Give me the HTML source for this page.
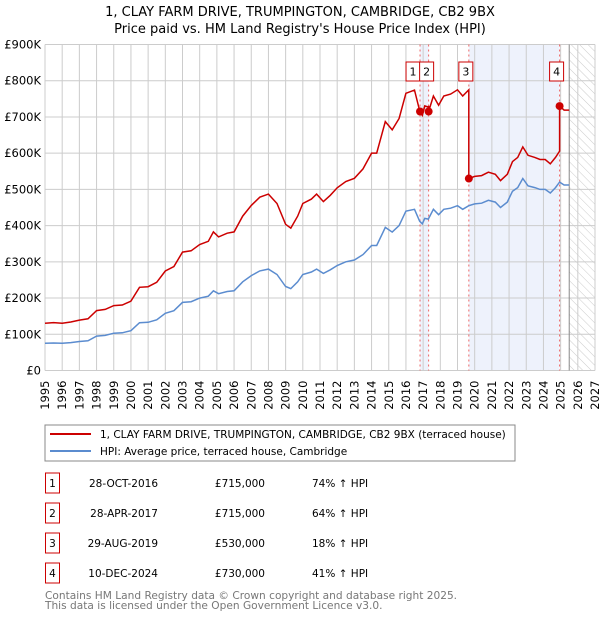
<!DOCTYPE html>
<html><head><meta charset="utf-8"><style>
body{margin:0;background:#fff;font-family:"DejaVu Sans","Liberation Sans",sans-serif;}
svg text{font-family:"DejaVu Sans","Liberation Sans",sans-serif;}
</style></head><body>
<svg id="c" width="600" height="620" xmlns="http://www.w3.org/2000/svg">
<defs><pattern id="hatch" width="6" height="6" patternUnits="userSpaceOnUse" patternTransform="rotate(-45)"><line x1="0" y1="0" x2="0" y2="6" stroke="#ccc" stroke-width="1"/></pattern></defs>
<text x="300" y="16" text-anchor="middle" font-size="13" fill="#000">1, CLAY FARM DRIVE, TRUMPINGTON, CAMBRIDGE, CB2 9BX</text>
<text x="300" y="33" text-anchor="middle" font-size="13" fill="#000">Price paid vs. HM Land Registry's House Price Index (HPI)</text>
<g id="plot"></g>
<rect x="45" y="425" width="470" height="36" fill="#fff" stroke="#888"/>
<line x1="50" y1="434" x2="91" y2="434" stroke="#cc0000" stroke-width="2"/>
<text x="100" y="438" font-size="10.5">1, CLAY FARM DRIVE, TRUMPINGTON, CAMBRIDGE, CB2 9BX (terraced house)</text>
<line x1="50" y1="451" x2="91" y2="451" stroke="#5b8ccf" stroke-width="2"/>
<text x="100" y="455" font-size="10.5">HPI: Average price, terraced house, Cambridge</text>
<g id="table" font-size="10.5"></g>
<text x="45" y="599" font-size="10.6" fill="#777">Contains HM Land Registry data © Crown copyright and database right 2025.</text>
<text x="45" y="609" font-size="10.6" fill="#777">This data is licensed under the Open Government Licence v3.0.</text>
</svg>
<script>
const hpiYears=[1995,1995.5,1996,1996.5,1997,1997.5,1998,1998.5,1999,1999.5,2000,2000.5,2001,2001.5,2002,2002.5,2003,2003.5,2004,2004.5,2004.8,2005.1,2005.6,2006,2006.5,2007,2007.5,2008,2008.5,2009,2009.3,2009.7,2010,2010.5,2010.8,2011.2,2011.6,2012,2012.5,2013,2013.5,2014,2014.3,2014.8,2015.2,2015.6,2016,2016.5,2016.8,2016.95,2017.1,2017.3,2017.6,2017.9,2018.2,2018.6,2019,2019.3,2019.66,2020,2020.4,2020.8,2021.2,2021.5,2021.9,2022.2,2022.5,2022.8,2023.1,2023.5,2023.8,2024.1,2024.4,2024.7,2024.94,2025.2,2025.5];
const hpiValues=[75,76,75,77,80,82,95,97,103,104,110,132,133,140,158,165,188,190,200,205,220,212,218,220,245,262,275,280,265,232,226,245,265,272,280,268,278,290,300,305,320,345,345,395,382,400,440,445,412,405,420,418,445,430,445,448,455,445,455,460,462,470,465,450,465,495,505,530,510,505,500,500,490,505,520,512,512];
const saleDates=[2016.82,2017.32,2019.66,2024.94];
const salePrices=[715,715,530,730];
const saleLabels=["1","2","3","4"];
const saleDateText=["28-OCT-2016","28-APR-2017","29-AUG-2019","10-DEC-2024"];
const salePriceText=["£715,000","£715,000","£530,000","£730,000"];
const saleHpiText=["74% ↑ HPI","64% ↑ HPI","18% ↑ HPI","41% ↑ HPI"];
const yTicks=[0,100,200,300,400,500,600,700,800,900];
const yTickLabels=["£0","£100K","£200K","£300K","£400K","£500K","£600K","£700K","£800K","£900K"];
const xTicks=[1995,1996,1997,1998,1999,2000,2001,2002,2003,2004,2005,2006,2007,2008,2009,2010,2011,2012,2013,2014,2015,2016,2017,2018,2019,2020,2021,2022,2023,2024,2025,2026,2027];

const X0=45,X1=595,Y0=370.5,Y1=44.5,NS="http://www.w3.org/2000/svg";
const xs=t=>X0+(t-1995)/(2027-1995)*(X1-X0);
const ys=v=>Y0-v/900*(Y0-Y1);
const plot=document.getElementById('plot');
function el(tag,attrs,parent){const e=document.createElementNS(NS,tag);for(const k in attrs)e.setAttribute(k,attrs[k]);(parent||plot).appendChild(e);return e;}
function hpiAt(t){for(let i=0;i<hpiYears.length-1;i++){if(t<=hpiYears[i+1]){const f=(t-hpiYears[i])/(hpiYears[i+1]-hpiYears[i]);return hpiValues[i]+f*(hpiValues[i+1]-hpiValues[i]);}}return hpiValues[hpiValues.length-1];}
const lastT=hpiYears[hpiYears.length-1];

let s=el('rect',{x:xs(saleDates[0]),y:Y1,width:xs(saleDates[1])-xs(saleDates[0]),height:Y0-Y1,fill:'#eef2fc'});


s=el('rect',{x:xs(saleDates[2]),y:Y1,width:xs(saleDates[3])-xs(saleDates[2]),height:Y0-Y1,fill:'#eef2fc'});


s=el('rect',{x:xs(lastT),y:Y1,width:X1-xs(lastT),height:Y0-Y1,fill:'url(#hatch)'});



yTicks.forEach((v,i)=>{
 const l=el('line',{x1:X0,x2:X1,y1:ys(v),y2:ys(v),stroke:'#ccc','stroke-width':1});
 
 
 const t=el('text',{x:X0-4,y:ys(v)+4,'text-anchor':'end','font-size':11.5});
 t.textContent=yTickLabels[i];
 
 
});
xTicks.forEach(v=>{
 const l=el('line',{x1:xs(v),x2:xs(v),y1:Y1,y2:Y0,stroke:'#ccc','stroke-width':1});
 
 
 const t=el('text',{x:0,y:0,'text-anchor':'end','font-size':11.5,transform:`translate(${xs(v)+4},${Y0+10}) rotate(-90)`});
 t.textContent=v;
 
 
});
const nl=el('line',{x1:xs(lastT),x2:xs(lastT),y1:Y1,y2:Y0,stroke:'#888','stroke-width':1});



saleDates.forEach(d=>{
 const l=el('line',{x1:xs(d),x2:xs(d),y1:Y1,y2:Y0,stroke:'#e66','stroke-width':1,'stroke-dasharray':'2,3'});
 
 
});

let p=hpiYears.map((t,i)=>(i?'L':'M')+xs(t).toFixed(1)+','+ys(hpiValues[i]).toFixed(1)).join('');
const hl=el('path',{d:p,fill:'none',stroke:'#5b8ccf','stroke-width':1.5});



let pts=[];
function ratioAt(t){let k=0;for(let i=0;i<saleDates.length;i++)if(t>=saleDates[i])k=i;return salePrices[k]/hpiAt(saleDates[k]);}
const times=hpiYears.concat(saleDates).sort((a,b)=>a-b);
times.forEach(t=>{
 const idx=saleDates.indexOf(t);
 if(idx>=0){const prev=idx===0?salePrices[0]/hpiAt(saleDates[0]):salePrices[idx-1]/hpiAt(saleDates[idx-1]);pts.push([t,hpiAt(t)*prev]);pts.push([t,salePrices[idx]]);}
 else pts.push([t,hpiAt(t)*ratioAt(t)]);
});
p=pts.map((q,i)=>(i?'L':'M')+xs(q[0]).toFixed(1)+','+ys(q[1]).toFixed(1)).join('');
const pl=el('path',{d:p,fill:'none',stroke:'#cc0000','stroke-width':1.5});



saleDates.forEach((d,i)=>{
 const c=el('circle',{cx:xs(d),cy:ys(salePrices[i]),r:4,fill:'#cc0000'});
 
 
 const bx=i===0?xs(d)-14:(i===1?xs(d)-9:xs(d)-10);
 const r=el('rect',{x:bx,y:62,width:14,height:19,fill:'#fff',stroke:'#cc0000'});
 
 
 const t=el('text',{x:bx+7,y:75.5,'text-anchor':'middle','font-size':11});
 t.textContent=saleLabels[i];
 
 
});

const tb=document.getElementById('table');
saleLabels.forEach((lab,i)=>{
 const cy=483+i*30;
 const r=el('rect',{x:45.5,y:cy-10,width:14,height:20,fill:'#fff',stroke:'#cc0000'},tb);
 
 
 let t=el('text',{x:52.5,y:cy+4,'text-anchor':'middle'},tb);t.textContent=lab;
 
 
 t=el('text',{x:158,y:cy+4,'text-anchor':'end'},tb);t.textContent=saleDateText[i];
 
 
 t=el('text',{x:265,y:cy+4,'text-anchor':'end'},tb);t.textContent=salePriceText[i];
 
 
 t=el('text',{x:312,y:cy+4},tb);t.textContent=saleHpiText[i];
 
 
});
</script>
</body></html>
